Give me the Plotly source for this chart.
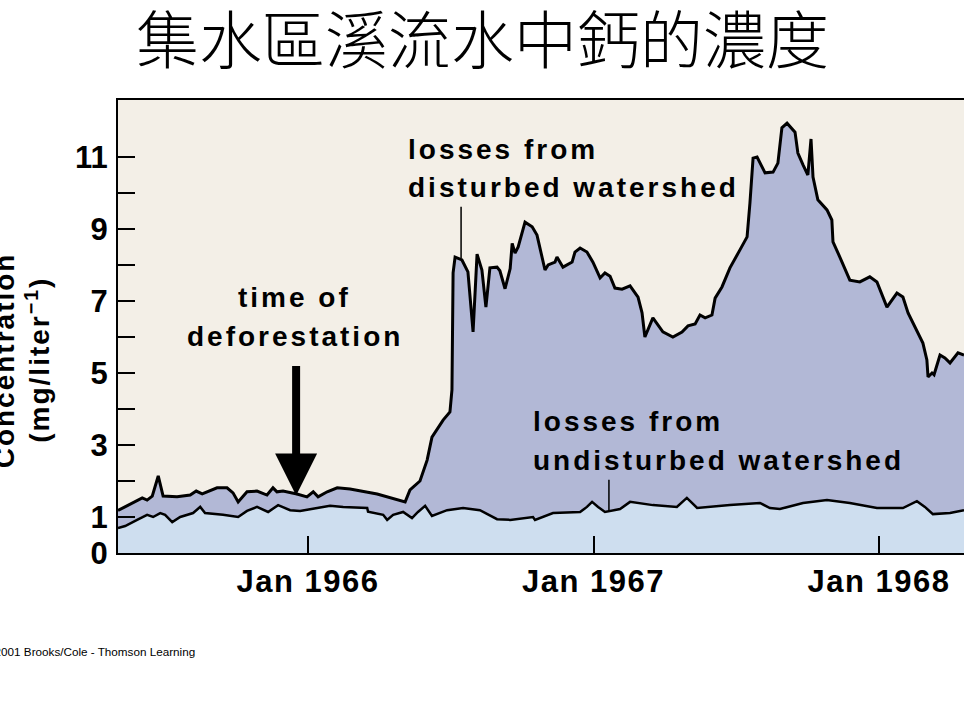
import plotly.graph_objects as go

# ---- data (decimal year, mg/liter) ----
disturbed_t = [1965.334, 1965.359, 1965.394, 1965.419, 1965.436, 1965.454, 1965.475, 1965.492,
               1965.541, 1965.587, 1965.608, 1965.629, 1965.681, 1965.716, 1965.737, 1965.755,
               1965.786, 1965.821, 1965.856, 1965.877, 1965.891, 1965.912, 1965.961, 1965.996,
               1966.018, 1966.035, 1966.067, 1966.102, 1966.147, 1966.242, 1966.340, 1966.357,
               1966.392, 1966.417, 1966.434, 1966.473, 1966.497, 1966.504, 1966.508, 1966.515,
               1966.539, 1966.560, 1966.578, 1966.592, 1966.609, 1966.623, 1966.637, 1966.662,
               1966.672, 1966.690, 1966.708, 1966.715, 1966.725, 1966.736, 1966.760, 1966.785,
               1966.802, 1966.813, 1966.830, 1966.841, 1966.865, 1966.872, 1966.893, 1966.925,
               1966.935, 1966.953, 1966.977, 1966.998, 1967.023, 1967.040, 1967.058, 1967.075,
               1967.100, 1967.128, 1967.156, 1967.170, 1967.180, 1967.208, 1967.243, 1967.278,
               1967.310, 1967.331, 1967.356, 1967.373, 1967.391, 1967.415, 1967.426, 1967.450,
               1967.478, 1967.513, 1967.538, 1967.548, 1967.559, 1967.573, 1967.601, 1967.629,
               1967.646, 1967.660, 1967.678, 1967.706, 1967.716, 1967.734, 1967.751, 1967.762,
               1967.769, 1967.786, 1967.818, 1967.835, 1967.839, 1967.863, 1967.898, 1967.933,
               1967.968, 1967.993, 1968.028, 1968.063, 1968.084, 1968.102, 1968.133, 1968.154,
               1968.168, 1968.172, 1968.186, 1968.193, 1968.214, 1968.231, 1968.249, 1968.277,
               1968.298]
disturbed_v = [1.18, 1.28, 1.42, 1.53, 1.47, 1.58, 2.14, 1.58,
               1.56, 1.61, 1.72, 1.64, 1.81, 1.81, 1.67, 1.42,
               1.70, 1.72, 1.61, 1.81, 1.70, 1.72, 1.64, 1.56,
               1.70, 1.56, 1.70, 1.81, 1.78, 1.64, 1.42, 1.75,
               2.00, 2.58, 3.22, 3.69, 3.92, 4.53, 7.78, 8.22,
               8.14, 7.81, 6.14, 8.30, 7.86, 6.83, 7.92, 7.94,
               7.84, 7.34, 7.90, 8.60, 8.33, 8.50, 9.19, 9.06,
               8.83, 8.42, 7.86, 8.00, 8.08, 8.22, 7.94, 8.08,
               8.36, 8.47, 8.36, 8.08, 7.64, 7.78, 7.69, 7.36,
               7.33, 7.42, 7.11, 6.67, 6.00, 6.53, 6.14, 6.00,
               6.14, 6.31, 6.36, 6.61, 6.53, 6.61, 7.08, 7.39,
               7.92, 8.42, 8.78, 9.72, 10.97, 11.00, 10.56, 10.58,
               10.83, 11.81, 11.94, 11.69, 11.11, 10.78, 10.50, 11.50,
               10.44, 9.81, 9.53, 9.25, 8.64, 8.22, 7.58, 7.53,
               7.67, 7.53, 6.83, 7.22, 7.11, 6.67, 6.19, 5.83,
               5.36, 4.89, 5.00, 4.95, 5.50, 5.42, 5.28, 5.56,
               5.50]

undisturbed_t = [1965.334, 1965.359, 1965.401, 1965.436, 1965.457, 1965.482, 1965.499, 1965.524,
                 1965.552, 1965.597, 1965.622, 1965.639, 1965.702, 1965.755, 1965.786, 1965.821,
                 1965.860, 1965.895, 1965.937, 1965.972, 1966.032, 1966.077, 1966.123, 1966.207,
                 1966.210, 1966.263, 1966.277, 1966.298, 1966.333, 1966.364, 1966.385, 1966.410,
                 1966.434, 1966.487, 1966.543, 1966.602, 1966.662, 1966.708, 1966.788, 1966.795,
                 1966.858, 1966.953, 1966.977, 1966.995, 1967.016, 1967.040, 1967.093, 1967.128,
                 1967.208, 1967.292, 1967.327, 1967.363, 1967.478, 1967.583, 1967.618, 1967.653,
                 1967.734, 1967.818, 1967.898, 1967.993, 1968.084, 1968.133, 1968.161, 1968.189,
                 1968.249, 1968.298]
undisturbed_v = [0.69, 0.75, 0.92, 1.06, 1.00, 1.11, 1.06, 0.86,
                 1.00, 1.11, 1.28, 1.11, 1.06, 1.00, 1.17, 1.28,
                 1.14, 1.33, 1.19, 1.17, 1.25, 1.31, 1.28, 1.25,
                 1.15, 1.06, 0.92, 1.06, 1.14, 0.97, 1.14, 1.31,
                 1.03, 1.19, 1.25, 1.19, 0.94, 0.92, 1.00, 0.92,
                 1.11, 1.14, 1.28, 1.42, 1.28, 1.14, 1.22, 1.42,
                 1.33, 1.28, 1.53, 1.25, 1.33, 1.39, 1.25, 1.22,
                 1.39, 1.47, 1.39, 1.25, 1.25, 1.44, 1.28, 1.08,
                 1.11, 1.19]

x_tickvals = [1966, 1967, 1968]
x_ticktext = ["Jan 1966", "Jan 1967", "Jan 1968"]
y_tickvals = [0, 1, 2, 3, 4, 5, 6, 7, 8, 9, 10, 11]
y_ticktext = ["0", "1", "", "3", "", "5", "", "7", "", "9", "", "11"]

title_text = "集水區溪流水中鈣的濃度"
y_title_1 = "Concentration"
y_title_2 = "(mg/liter<sup>−1</sup>)"

BEIGE = "#F3EFE7"
PURPLE = "#B2B8D6"
LIGHTBLUE = "#CEDEEF"
FONT = "Liberation Sans, Arial, sans-serif"

fig = go.Figure()
fig.add_trace(go.Scatter(x=disturbed_t, y=disturbed_v, mode="lines", fill="tozeroy",
                         fillcolor=PURPLE, line=dict(color="black", width=3),
                         hoverinfo="skip", showlegend=False))
fig.add_trace(go.Scatter(x=undisturbed_t, y=undisturbed_v, mode="lines", fill="tozeroy",
                         fillcolor=LIGHTBLUE, line=dict(color="black", width=2.5),
                         hoverinfo="skip", showlegend=False))


def sp(t, ls=3):
    return '<span style="letter-spacing:%spx">%s</span>' % (ls, t)


ann_font = dict(family=FONT, size=28, color="black", weight="bold")
anns = [
    dict(text=sp("losses from"), x=0.3404, y=0.8912, xanchor="left"),
    dict(text=sp("disturbed watershed"), x=0.3404, y=0.8073, xanchor="left"),
    dict(text=sp("time of"), x=0.2092, y=0.5645, xanchor="center"),
    dict(text=sp("deforestation"), x=0.2092, y=0.4784, xanchor="center"),
    dict(text=sp("losses from"), x=0.4882, y=0.2896, xanchor="left"),
    dict(text=sp("undisturbed watershed"), x=0.4882, y=0.2046, xanchor="left"),
]
for a in anns:
    fig.add_annotation(xref="paper", yref="paper", yanchor="middle", showarrow=False,
                       font=ann_font, **a)

# y-axis title (partly cut off at the left edge, as in the original)
fig.add_annotation(text=sp(y_title_1, 2), xref="paper", yref="paper", x=-0.1344, y=0.426,
                   textangle=-90, showarrow=False, xanchor="center", yanchor="middle",
                   font=ann_font)
fig.add_annotation(text=sp(y_title_2, 2), xref="paper", yref="paper", x=-0.0949, y=0.426,
                   textangle=-90, showarrow=False, xanchor="center", yanchor="middle",
                   font=ann_font)

# title
fig.add_annotation(text=title_text, xref="paper", yref="paper", x=0.4303, y=1.1424,
                   showarrow=False, xanchor="center", yanchor="middle",
                   font=dict(family="Noto Sans CJK TC", size=63, color="black", weight=300))

# copyright
fig.add_annotation(text="©2001 Brooks/Cole - Thomson Learning", xref="paper", yref="paper",
                   x=-0.1584, y=-0.2185, xanchor="left", yanchor="middle", showarrow=False,
                   font=dict(family=FONT, size=11.7, color="black"))

# deforestation arrow
fig.add_annotation(x=1965.958, y=1.6, xref="x", yref="y", text="", showarrow=True,
                   ax=0, ay=-131, arrowhead=2, arrowsize=1.05, arrowwidth=8,
                   arrowcolor="black", standoff=0)
# pointer lines
fig.add_annotation(x=1966.536, y=8.19, xref="x", yref="y", text="", showarrow=True,
                   ax=0, ay=-53, arrowhead=0, arrowwidth=1.5, arrowcolor="black", standoff=0)
fig.add_annotation(x=1967.054, y=1.19, xref="x", yref="y", text="", showarrow=True,
                   ax=0, ay=-32, arrowhead=0, arrowwidth=1.5, arrowcolor="black", standoff=0)

fig.update_layout(
    width=964, height=724,
    margin=dict(l=118, r=0, t=100, b=171),
    paper_bgcolor="white", plot_bgcolor=BEIGE,
    xaxis=dict(range=[1965.334, 1968.298], tickvals=x_tickvals,
               ticktext=[sp(t, 1.5) for t in x_ticktext],
               ticks="inside", ticklen=17, tickwidth=2, tickcolor="black",
               showline=True, linecolor="black", linewidth=2, mirror=True,
               showgrid=False, zeroline=False, ticklabelstandoff=0,
               tickfont=dict(family=FONT, size=31, color="black", weight="bold")),
    yaxis=dict(range=[0, 12.583], tickvals=y_tickvals, ticktext=y_ticktext,
               ticks="inside", ticklen=17, tickwidth=2, tickcolor="black",
               showline=True, linecolor="black", linewidth=2, mirror=False,
               showgrid=False, zeroline=False, ticklabelstandoff=2,
               tickfont=dict(family=FONT, size=31, color="black", weight="bold")),
)

fig.write_html("out.html", config={"displayModeBar": False},
               post_script="document.body.style.margin='0';document.body.style.overflow='hidden';")
